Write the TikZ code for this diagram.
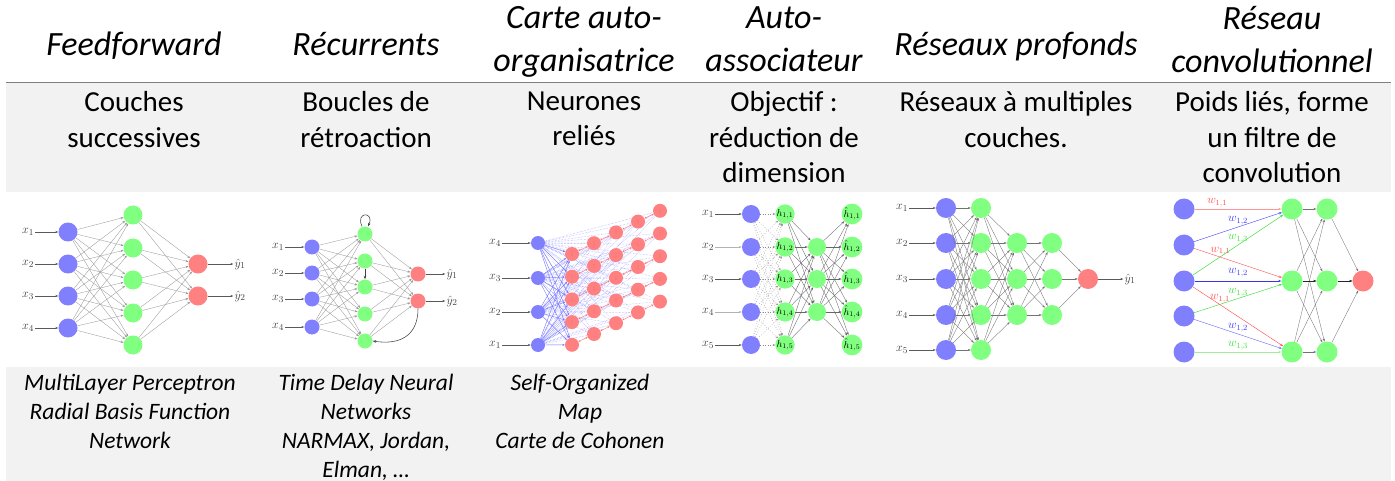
\documentclass[tikz,border=0pt]{standalone}
\usepackage{fontspec}
\setmainfont{Carlito}
\usepackage{tikz}
\usetikzlibrary{arrows.meta,positioning,backgrounds}
\definecolor{cellgray}{HTML}{F2F2F2}
\definecolor{rulegray}{HTML}{7F7F7F}
\definecolor{neublue}{HTML}{8080FF}
\definecolor{neugreen}{HTML}{80FF80}
\definecolor{neured}{HTML}{FF8080}
\definecolor{wred}{HTML}{FF5050}
\definecolor{wblue}{HTML}{3C3CFF}
\definecolor{wgreen}{HTML}{3CE03C}

\begin{document}
\begin{tikzpicture}[x=1pt, y=-1pt,
    title/.style={anchor=north, align=center, inner sep=0pt, font=\fontsize{34}{43}\selectfont\itshape, execute at begin node=\strut},
    desc/.style={anchor=north, align=center, inner sep=0pt, font=\fontsize{29}{35.4}\selectfont, execute at begin node=\strut},
    ex/.style={anchor=north, align=center, inner sep=0pt, font=\fontsize{23.5}{29}\selectfont\itshape, execute at begin node=\strut},
    inN/.style={circle, inner sep=0pt, fill=neublue, minimum size=#1},
    hidN/.style={circle, inner sep=0pt, fill=neugreen, minimum size=#1, font=\fontsize{10}{10}\selectfont},
    outN/.style={circle, inner sep=0pt, fill=neured, minimum size=#1},
    lbl/.style={font=\fontsize{13}{13}\selectfont, text=black!75, inner sep=1pt},
    wlab/.style={font=\fontsize{11.5}{12}\selectfont, inner sep=1.5pt},
    syn/.style={draw=black!40, line width=0.35pt, -{Stealth[length=3pt,width=2.2pt]}},
    inArr/.style={draw=black!65, line width=0.5pt, -{Stealth[length=3pt,width=2.2pt]}},
    fb/.style={draw=black!75, line width=0.55pt, -{Stealth[length=3.5pt,width=2.6pt]}},
    som/.style={draw=neured!90!red, line width=0.4pt, {Stealth[length=2pt,width=1.8pt]}-{Stealth[length=2pt,width=1.8pt]}},
    somin/.style={draw=neublue!90!blue, line width=0.4pt, -{Stealth[length=2.5pt,width=2pt]}},
    somdot/.style={draw=neublue!80, densely dotted, line width=0.45pt},
    udot/.style={draw=black!45, dotted, line width=0.5pt, -{Stealth[length=2.5pt,width=2pt]}},
    wire/.style={draw=#1, line width=0.45pt, -{Stealth[length=3pt,width=2.2pt]}}
]
\useasboundingbox (0,0) rectangle (1395,481);

% table rows
\fill[cellgray] (6,82) rectangle (1391,192);
\fill[cellgray] (6,367) rectangle (1391,481);
\draw[rulegray, line width=1.8pt] (6,82.5) -- (1391,82.5);

% column titles
\node[title] (t1) at (134,25) {Feedforward};
\node[title] (t2) at (366,25) {Récurrents};
\node[title] (t3) at (584,6) {Carte auto-\\organisatrice};
\node[title] (t4) at (784,6) {Auto-\\associateur};
\node[title] (t5) at (1016,25) {Réseaux profonds};
\node[title] (t6) at (1272,6) {Réseau\\convolutionnel};

% descriptions
\node[desc] (d1) at (134,91.5) {Couches\\successives};
\node[desc] (d2) at (366,91.5) {Boucles de\\rétroaction};
\node[desc] (d3) at (584,91.5) {Neurones\\reliés};
\node[desc] (d4) at (784,91.5) {Objectif :\\réduction de\\dimension};
\node[desc] (d5) at (1016,91.5) {Réseaux à multiples\\couches.};
\node[desc] (d6) at (1272,91.5) {Poids liés, forme\\un filtre de\\convolution};

% examples
\node[ex] (e1) at (130,373.5) {MultiLayer Perceptron\\Radial Basis Function\\Network};
\node[ex] (e2) at (366,373.5) {Time Delay Neural\\Networks\\NARMAX, Jordan,\\Elman, …};
\node[ex] (e3) at (580,373.5) {Self-Organized\\Map\\Carte de Cohonen};

% Feedforward network
\foreach \i/\y in {1/232,2/264,3/296,4/328}{
  \node[inN=19pt] (fa\i) at (68,\y) {};
  \node[lbl] (fx\i) at (28,\y) {$x_{\i}$};
  \draw[inArr] (fx\i) -- (fa\i);
}
\foreach \j/\y in {1/215,2/248,3/280,4/313,5/345}
  \node[hidN=19pt] (fh\j) at (133,\y) {};
\foreach \k/\y in {1/264,2/296}{
  \node[outN=19pt] (fo\k) at (198,\y) {};
  \node[lbl] (fy\k) at (240,\y) {$\hat y_{\k}$};
  \draw[inArr] (fo\k) -- (fy\k);
}
\foreach \i in {1,...,4} \foreach \j in {1,...,5} \draw[syn] (fa\i) -- (fh\j);
\foreach \j in {1,...,5} \foreach \k in {1,2} \draw[syn] (fh\j) -- (fo\k);

% Recurrent network
\foreach \i/\y in {1/247,2/273,3/299,4/327}{
  \node[inN=15pt] (ra\i) at (312,\y) {};
  \node[lbl] (rx\i) at (278,\y) {$x_{\i}$};
  \draw[inArr] (rx\i) -- (ra\i);
}
\foreach \j/\y in {1/234,2/261,3/287,4/314,5/341}
  \node[hidN=15pt] (rh\j) at (365,\y) {};
\foreach \k/\y in {1/274,2/301}{
  \node[outN=15pt] (ro\k) at (418,\y) {};
  \node[lbl] (ry\k) at (452,\y) {$\hat y_{\k}$};
  \draw[inArr] (ro\k) -- (ry\k);
}
\foreach \i in {1,...,4} \foreach \j in {1,...,5} \draw[syn] (ra\i) -- (rh\j);
\foreach \j in {1,...,5} \foreach \k in {1,2} \draw[syn] (rh\j) -- (ro\k);
\draw[fb] ([xshift=-3pt]rh1.north) .. controls +(-7,-15) and +(7,-15) .. ([xshift=3pt]rh1.north);
\draw[fb] (rh2) -- (rh3);
\draw[fb] (ro2.south) .. controls +(0,28) and +(26,4) .. (rh5.east);

% Self-organizing map
\foreach \i/\y in {4/243,3/278,2/312,1/345}{
  \node[inN=14pt] (sa\i) at (538,\y) {};
  \node[lbl] (sx\i) at (495,\y) {$x_{\i}$};
  \draw[inArr] (sx\i) -- (sa\i);
}
\foreach \c in {0,...,4} \foreach \r in {0,...,4}
  \node[outN=14pt] (s\c\r) at ({572+22*\c},{254+22.7*\r-10.8*\c}) {};
\foreach \c in {0,...,4} \foreach \r [evaluate=\r as \rn using int(\r+1)] in {0,...,3}
  \draw[som] (s\c\r) -- (s\c\rn);
\foreach \c [evaluate=\c as \cn using int(\c+1)] in {0,...,3} \foreach \r in {0,...,4}
  \draw[som] (s\c\r) -- (s\cn\r);
\foreach \i in {1,...,4} \foreach \r in {0,...,4}
  \draw[somin] (sa\i) -- (s0\r);
\begin{scope}[on background layer]
  \foreach \i in {1,...,4} \foreach \c in {1,...,4} \foreach \r in {0,...,4}
    \draw[somdot] (sa\i) -- (s\c\r);
\end{scope}

% Auto-associator
\foreach \i/\y/\g in {1/214/65,2/247/30,3/279/65,4/312/30,5/345/65}{
  \node[inN=18pt] (ua\i) at (751,\y) {};
  \node[lbl] (ux\i) at (708,\y) {$x_{\i}$};
  \draw[inArr, draw=black!\g] (ux\i) -- (ua\i);
  \node[hidN=18pt] (uh\i) at (785,\y) {$h_{1,\i}$};
  \node[hidN=18pt] (ur\i) at (852,\y) {$\hat h_{1,\i}$};
}
\foreach \j/\y in {1/247,2/279,3/312}
  \node[hidN=18pt] (um\j) at (817,\y) {};
\foreach \i in {1,...,5} \foreach \j in {1,...,5} \draw[udot] (ua\i) -- (uh\j);
\foreach \i in {1,...,5} \foreach \j in {1,2,3} \draw[syn, draw=black!60] (uh\i) -- (um\j);
\foreach \j in {1,2,3} \foreach \i in {1,...,5} \draw[syn, draw=black!60] (um\j) -- (ur\i);

% Deep network
\foreach \i/\y in {1/208,2/243,3/279,4/315,5/350}{
  \node[inN=20pt] (pa\i) at (946,\y) {};
  \node[lbl] (px\i) at (902,\y) {$x_{\i}$};
  \draw[inArr] (px\i) -- (pa\i);
  \node[hidN=20pt] (pb\i) at (981,\y) {};
}
\foreach \j/\y in {1/243,2/279,3/315}{
  \node[hidN=20pt] (pc\j) at (1017,\y) {};
  \node[hidN=20pt] (pd\j) at (1052,\y) {};
}
\node[outN=20pt] (po) at (1088,279) {};
\node[lbl] (py) at (1130,279) {$\hat y_1$};
\draw[inArr] (po) -- (py);
\foreach \i in {1,...,5} \foreach \j in {1,...,5} \draw[syn, draw=black!55] (pa\i) -- (pb\j);
\foreach \i in {1,...,5} \foreach \j in {1,2,3} \draw[syn, draw=black!55] (pb\i) -- (pc\j);
\foreach \i in {1,2,3} \foreach \j in {1,2,3} \draw[syn, draw=black!55] (pc\i) -- (pd\j);
\foreach \i in {1,2,3} \draw[syn, draw=black!55] (pd\i) -- (po);

% Convolutional network
\foreach \i/\y in {1/209,2/245,3/281,4/316,5/352}
  \node[inN=21pt] (ca\i) at (1184,\y) {};
\foreach \j/\y in {1/209,2/281,3/352}{
  \node[hidN=21pt] (cg\j) at (1292,\y) {};
  \node[hidN=21pt] (ch\j) at (1327,\y) {};
}
\node[outN=21pt] (cr) at (1363,281) {};
\draw[wire=wred!60] (ca1) -- node[wlab, text=wred, pos=0.26, above] {$w_{1,1}$} (cg1);
\draw[wire=wblue] (ca2) -- node[wlab, text=wblue, pos=0.5, above] {$w_{1,2}$} (cg1);
\draw[wire=wgreen] (ca3) -- node[wlab, text=wgreen, pos=0.5, above] {$w_{1,3}$} (cg1);
\draw[wire=wred] (ca2) -- node[wlab, text=wred, pos=0.3, above] {$w_{1,1}$} (cg2);
\draw[wire=wblue!90!black] (ca3) -- node[wlab, text=wblue, pos=0.5, above, yshift=2pt] {$w_{1,2}$} (cg2);
\draw[wire=wgreen] (ca4) -- node[wlab, text=wgreen, pos=0.5, above] {$w_{1,3}$} (cg2);
\draw[wire=wred] (ca3) -- node[wlab, text=wred, pos=0.3, above] {$w_{1,1}$} (cg3);
\draw[wire=wblue!80] (ca4) -- node[wlab, text=wblue, pos=0.5, above] {$w_{1,2}$} (cg3);
\draw[wire=wgreen!50] (ca5) -- node[wlab, text=wgreen, pos=0.5, above] {$w_{1,3}$} (cg3);
\foreach \i in {1,2,3} \foreach \j in {1,2,3} \draw[syn, draw=black!55] (cg\i) -- (ch\j);
\foreach \j in {1,2,3} \draw[syn, draw=black!55] (ch\j) -- (cr);
\draw[syn, draw=black!85] (cg2) -- (ch2);
\draw[syn, draw=black!85] (ch2) -- (cr);
\end{tikzpicture}
\end{document}
